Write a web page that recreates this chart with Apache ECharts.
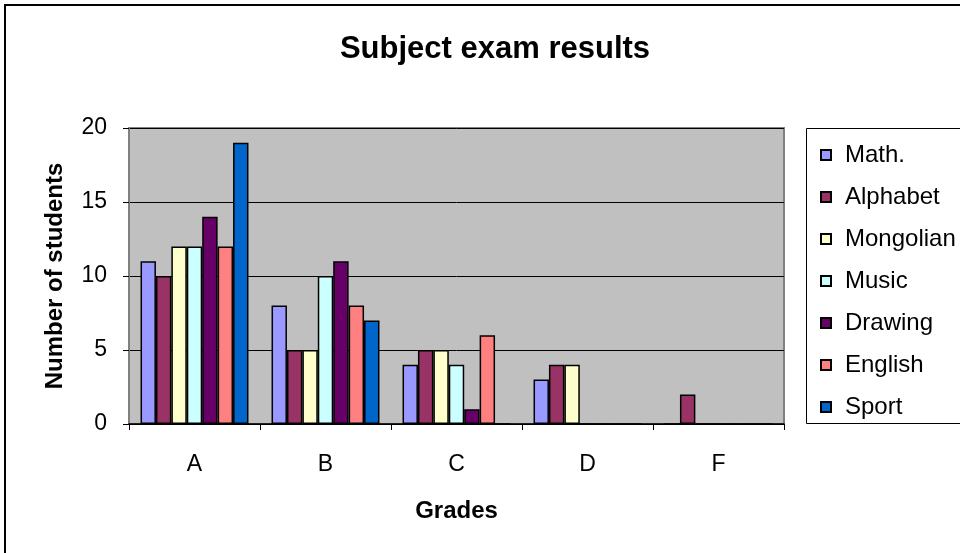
<!DOCTYPE html>
<html>
<head>
<meta charset="utf-8">
<script src="https://cdn.jsdelivr.net/npm/echarts@6/dist/echarts.min.js"></script>
<style>
  html, body { margin: 0; padding: 0; background: #fff; }
  #chart { width: 960px; height: 553px; }
</style>
</head>
<body>
<div id="chart"></div>
<script>
// grades on the x axis
const grades = ['A', 'B', 'C', 'D', 'F']

// students per grade, one list per subject
const subjects = ['Math.', 'Alphabet', 'Mongolian', 'Music', 'Drawing', 'English', 'Sport']
const math = [11, 8, 4, 3, 0]
const alphabet = [10, 5, 5, 4, 2]
const mongolian = [12, 5, 5, 4, 0]
const music = [12, 10, 4, 0, 0]
const drawing = [14, 11, 1, 0, 0]
const english = [12, 8, 6, 0, 0]
const sport = [19, 7, 0, 0, 0]

const colors = ['#9999FF', '#993366', '#FFFFCC', '#CCFFFF', '#660066', '#FF8080', '#0066CC']
const values = [math, alphabet, mongolian, music, drawing, english, sport]

const font = 'Arial, "Liberation Sans", sans-serif'

const chart = echarts.init(document.getElementById('chart'), null, { renderer: 'canvas' })

const option = {
  backgroundColor: '#fff',
  animation: false,
  color: colors,
  title: {
    text: 'Subject exam results',
    left: 490,
    top: 29,
    textAlign: 'center',
    textStyle: { fontFamily: font, fontSize: 31, fontWeight: 'bold', color: '#000' }
  },
  graphic: [
    {
      type: 'rect',
      shape: { x: 5, y: 5, width: 1000, height: 600 },
      style: { fill: 'none', stroke: '#000', lineWidth: 2 },
      z: 100
    },
    {
      type: 'rect',
      shape: { x: 806.5, y: 128.5, width: 200, height: 295 },
      style: { fill: 'none', stroke: '#000', lineWidth: 1 }
    }
  ],
  legend: {
    orient: 'vertical',
    left: 815,
    top: 138,
    itemWidth: 10,
    itemHeight: 10,
    itemGap: 18,
    icon: 'rect',
    data: subjects,
    textStyle: {
      fontFamily: font,
      fontSize: 24,
      lineHeight: 24,
      color: '#000',
      padding: [0, 0, 0, 9]
    }
  },
  grid: {
    left: 129,
    top: 128,
    width: 655,
    height: 296,
    show: true,
    backgroundColor: '#C0C0C0',
    borderColor: '#808080',
    borderWidth: 2
  },
  xAxis: {
    type: 'category',
    data: grades,
    name: 'Grades',
    nameLocation: 'middle',
    nameGap: 75,
    nameTextStyle: { fontFamily: font, fontSize: 24, fontWeight: 'bold', color: '#000' },
    axisLine: { lineStyle: { color: '#000', width: 1.5 } },
    axisTick: { show: true, length: 6, lineStyle: { color: '#000' } },
    axisLabel: { fontFamily: font, fontSize: 23, color: '#000', margin: 29 }
  },
  yAxis: {
    type: 'value',
    min: 0,
    max: 20,
    interval: 5,
    name: 'Number of students',
    nameLocation: 'middle',
    nameGap: 62,
    nameTextStyle: { fontFamily: font, fontSize: 24, fontWeight: 'bold', color: '#000' },
    axisLine: { show: true, lineStyle: { color: '#808080', width: 2 } },
    axisTick: { show: true, length: 6, lineStyle: { color: '#000' } },
    axisLabel: { fontFamily: font, fontSize: 23, color: '#000', margin: 22 },
    splitLine: { lineStyle: { color: '#000', width: 1 } }
  },
  series: subjects.map((name, i) => ({
    name,
    type: 'bar',
    data: values[i],
    barGap: '0%',
    barCategoryGap: '17.6%',
    itemStyle: { borderColor: '#000', borderWidth: 1.5 }
  }))
}

chart.setOption(option)
</script>
</body>
</html>
